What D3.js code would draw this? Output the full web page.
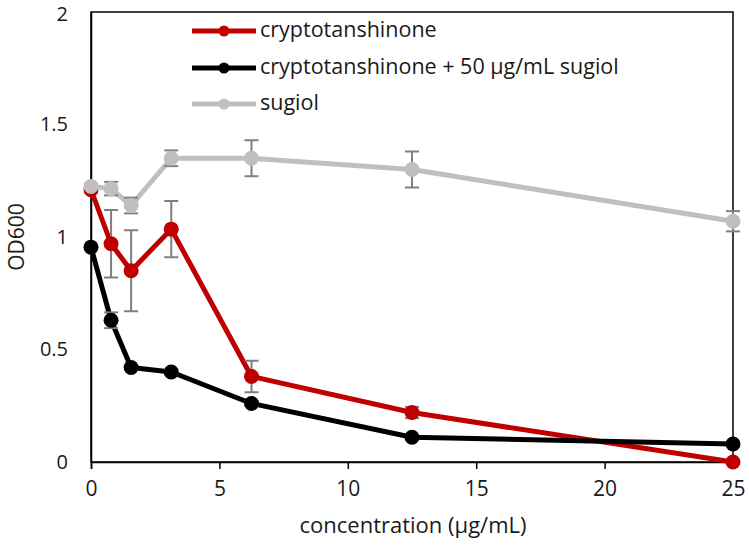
<!DOCTYPE html>
<html>
<head>
<meta charset="utf-8">
<script src="https://cdn.jsdelivr.net/npm/d3@7"></script>
<style>
  html, body { margin: 0; padding: 0; background: #fff; }
  svg { display: block; }
  text { font-family: "Open Sans", sans-serif; fill: #1a1a1a; }
</style>
</head>
<body>
<svg id="chart" width="749" height="548"></svg>
<script>
// ---- data ----
const concentrations = [0, 0.78125, 1.5625, 3.125, 6.25, 12.5, 25];
const seriesNames = ["cryptotanshinone", "cryptotanshinone + 50 μg/mL sugiol", "sugiol"];
const cryptoValues = [1.21, 0.97, 0.85, 1.035, 0.38, 0.22, 0.0];
const cryptoErrors = [0, 0.15, 0.18, 0.125, 0.07, 0.025, 0];
const comboValues = [0.955, 0.63, 0.42, 0.40, 0.26, 0.11, 0.08];
const comboErrors = [0, 0.035, 0.01, 0.01, 0.01, 0.01, 0.01];
const sugiolValues = [1.225, 1.215, 1.14, 1.35, 1.35, 1.30, 1.07];
const sugiolErrors = [0.01, 0.03, 0.035, 0.035, 0.08, 0.08, 0.045];
const xTicks = [0, 5, 10, 15, 20, 25];
const yTicks = [0, 0.5, 1, 1.5, 2];
const xLabel = "concentration (μg/mL)";
const yLabel = "OD600";

const colors = ["#C00000", "#000000", "#BFBFBF"];
const series = [
  { name: seriesNames[0], values: cryptoValues, errors: cryptoErrors, color: colors[0] },
  { name: seriesNames[1], values: comboValues, errors: comboErrors, color: colors[1] },
  { name: seriesNames[2], values: sugiolValues, errors: sugiolErrors, color: colors[2] }
];

// ---- layout ----
const svg = d3.select("#chart");
const plotLeft = 91, plotRight = 733, plotTop = 12, plotBottom = 462;
const x = d3.scaleLinear().domain([0, 25]).range([plotLeft, plotRight]);
const y = d3.scaleLinear().domain([0, 2]).range([plotBottom, plotTop]);

// plot box (top + right edges)
svg.append("rect")
  .attr("x", plotLeft).attr("y", plotTop)
  .attr("width", plotRight - plotLeft).attr("height", plotBottom - plotTop)
  .attr("fill", "none").attr("stroke", "#000").attr("stroke-width", 1.5);

// x axis
const xAxis = svg.append("g")
  .attr("transform", `translate(0,${plotBottom})`)
  .call(d3.axisBottom(x).tickValues(xTicks).tickSize(7).tickPadding(12).tickFormat(d3.format("d")));
xAxis.select(".domain").attr("stroke", "#000").attr("stroke-width", 1.5);
xAxis.selectAll(".tick line").attr("stroke", "#000").attr("stroke-width", 1.5);
xAxis.selectAll(".tick text").style("font-size", "21px").attr("fill", "#1a1a1a");

// y axis
const yAxis = svg.append("g")
  .attr("transform", `translate(${plotLeft},0)`)
  .call(d3.axisLeft(y).tickValues(yTicks).tickSize(0).tickPadding(23).tickFormat(d => String(d)));
yAxis.select(".domain").attr("stroke", "#000").attr("stroke-width", 1.5);
yAxis.selectAll(".tick text").style("font-size", "20px").attr("fill", "#1a1a1a");
yAxis.selectAll(".tick text").filter(d => d === 2).attr("dy", "0.42em");

// axis titles
svg.append("text")
  .attr("x", (plotLeft + plotRight) / 2 + 1).attr("y", 527)
  .attr("text-anchor", "middle").attr("dominant-baseline", "middle")
  .style("font-size", "22px").text(xLabel);
svg.append("text")
  .attr("transform", `translate(18,${(plotTop + plotBottom) / 2}) rotate(-90)`)
  .attr("text-anchor", "middle").attr("dominant-baseline", "middle")
  .style("font-size", "21px").text(yLabel);

// ---- series ----
const line = d3.line().x((d, i) => x(concentrations[i])).y(d => y(d));
const capHalf = 7;

series.forEach(s => {
  const g = svg.append("g");
  g.append("path")
    .attr("d", line(s.values))
    .attr("fill", "none").attr("stroke", s.color)
    .attr("stroke-width", 5).attr("stroke-linejoin", "round");
  // error bars
  const eb = g.append("g").attr("stroke", "#7F7F7F").attr("stroke-width", 2);
  s.values.forEach((v, i) => {
    const e = s.errors[i];
    if (!e) return;
    const cx = x(concentrations[i]);
    eb.append("line").attr("x1", cx).attr("x2", cx).attr("y1", y(v + e)).attr("y2", y(v - e));
    eb.append("line").attr("x1", cx - capHalf).attr("x2", cx + capHalf).attr("y1", y(v + e)).attr("y2", y(v + e));
    eb.append("line").attr("x1", cx - capHalf).attr("x2", cx + capHalf).attr("y1", y(v - e)).attr("y2", y(v - e));
  });
  g.selectAll("circle").data(s.values).enter().append("circle")
    .attr("cx", (d, i) => x(concentrations[i])).attr("cy", d => y(d))
    .attr("r", 7.5).attr("fill", s.color);
});

// ---- legend ----
const legendRows = [31, 68, 104];
series.forEach((s, i) => {
  const g = svg.append("g").attr("transform", `translate(0,${legendRows[i]})`);
  g.append("line").attr("x1", 192).attr("x2", 256).attr("y1", 0).attr("y2", 0)
    .attr("stroke", s.color).attr("stroke-width", 5);
  g.append("circle").attr("cx", 224).attr("cy", 0).attr("r", 5.5).attr("fill", s.color);
  g.append("text").attr("x", 260).attr("y", 0).attr("dominant-baseline", "middle")
    .style("font-size", "21.5px").text(s.name);
});
</script>
</body>
</html>
